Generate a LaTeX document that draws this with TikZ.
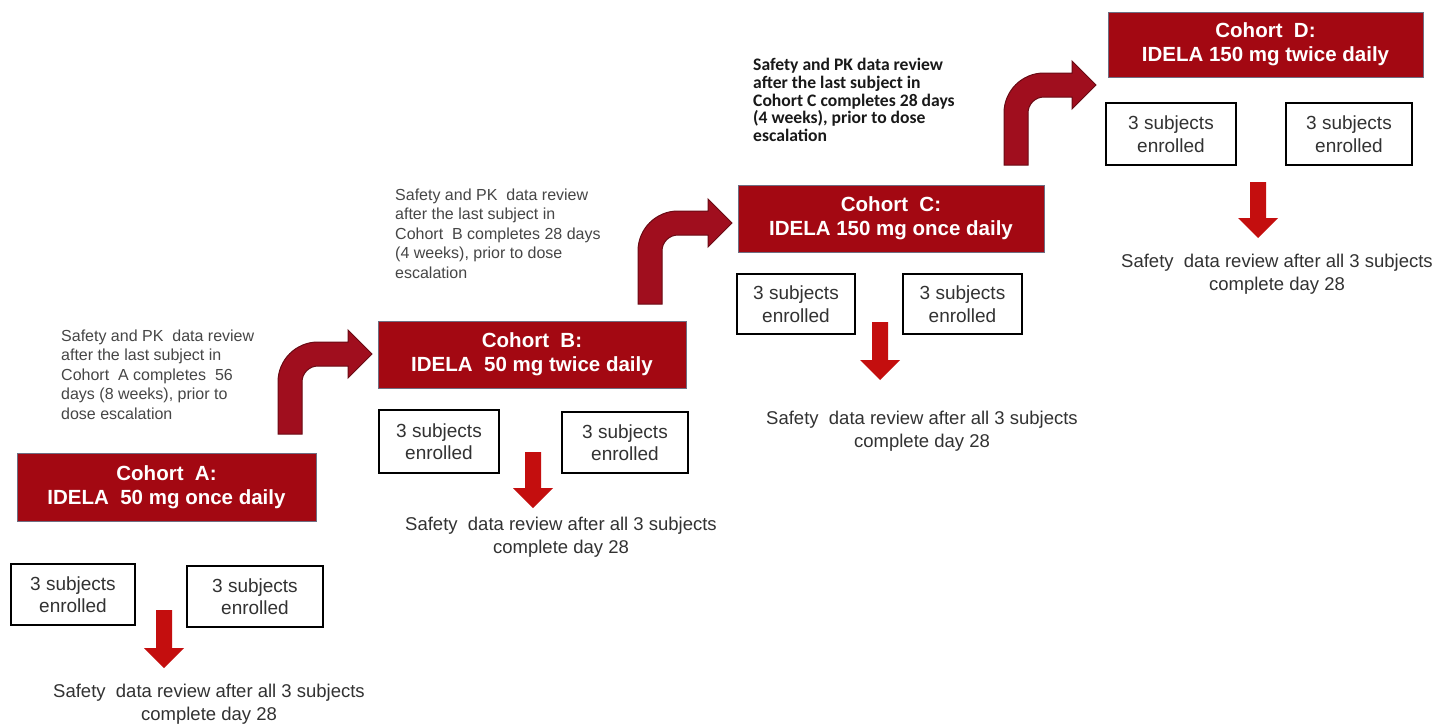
\documentclass[tikz,border=0pt]{standalone}
\usepackage{fontspec}
\setmainfont{Liberation Sans}
\newfontfamily\calibfont{Carlito}
\definecolor{boxred}{RGB}{163,8,18}
\definecolor{boxedge}{RGB}{110,110,130}
\definecolor{bentred}{RGB}{160,14,30}
\definecolor{bentedge}{RGB}{105,10,20}
\definecolor{dnred}{RGB}{196,14,14}
\definecolor{txtgray}{RGB}{70,70,70}
\definecolor{txtdark}{RGB}{50,50,50}
\definecolor{txtblack}{RGB}{25,25,25}
\newcommand\dnarrow[4]{\fill[dnred] (#1-8,#2) -- (#1+8,#2) -- (#1+8,#3) -- (#1+20,#3) -- (#1,#4) -- (#1-20,#3) -- (#1-8,#3) -- cycle;}
\begin{document}
\begin{tikzpicture}[x=1pt,y=-1pt,
  title/.style={fill=boxred, draw=boxedge, line width=0.8pt, text=white, font=\fontsize{20.5}{24}\selectfont\bfseries, align=center, inner sep=0pt},
  enrol/.style={draw=black, line width=1.8pt, fill=white, text=txtdark, font=\fontsize{19}{22.5}\selectfont, align=center, inner sep=0pt},
  review/.style={text=txtgray, font=\fontsize{16}{19.6}\selectfont, align=left, anchor=west, inner sep=0pt},
  reviewc/.style={text=txtblack, font=\calibfont\bfseries\fontsize{17.6}{17.6}\selectfont, align=left, anchor=west, inner sep=0pt},
  safety/.style={text=txtdark, font=\fontsize{18.5}{23}\selectfont, align=center, inner sep=0pt},
  bent/.style={fill=bentred, draw=bentedge, line width=1pt}]
\useasboundingbox (0,0) rectangle (1438,726);
\fill[white] (0,0) rectangle (1438,726);

% ---- Cohort A ----
\node[title, minimum width=299pt, minimum height=68pt] (tA) at (166.5,487) {Cohort\ \ A:\\IDELA\ \ 50 mg once daily};
\node[enrol, minimum width=124pt, minimum height=61pt] (eA1) at (73,594.5) {3 subjects\\enrolled};
\node[enrol, minimum width=136pt, minimum height=61pt] (eA2) at (255,596.5) {3 subjects\\enrolled};
\dnarrow{164}{610}{648}{668}
\node[safety] (sA) at (209,704) {Safety\ \ data review after all 3 subjects\\complete day 28};
\node[review] (rA) at (61,374.5) {Safety and PK\ \ data review\\after the last subject in\\Cohort\ \ A completes\ \ 56\\days (8 weeks), prior to\\dose escalation};
\path[bent] (278,434) -- (278,382) .. controls (278,359.9) and (295.9,342) .. (318,342) -- (348,342) -- (348,330) -- (372,354) -- (348,378) -- (348,366) -- (318,366) .. controls (309.2,366) and (302,373.2) .. (302,382) -- (302,434) -- cycle;

% ---- Cohort B ----
\node[title, minimum width=308pt, minimum height=67pt] (tB) at (532,354.5) {Cohort\ \ B:\\IDELA\ \ 50 mg twice daily};
\node[enrol, minimum width=120pt, minimum height=63pt] (eB1) at (439,441.5) {3 subjects\\enrolled};
\node[enrol, minimum width=126pt, minimum height=61pt] (eB2) at (625,442.5) {3 subjects\\enrolled};
\dnarrow{533}{452}{488}{508}
\node[safety] (sB) at (561,537.5) {Safety\ \ data review after all 3 subjects\\complete day 28};
\node[review] (rB) at (395,233.5) {Safety and PK\ \ data review\\after the last subject in\\Cohort\ \ B completes 28 days\\(4 weeks), prior to dose\\escalation};
\path[bent] (638,304) -- (638,251) .. controls (638,228.9) and (655.9,211) .. (678,211) -- (708,211) -- (708,199) -- (732,223) -- (708,247) -- (708,235) -- (678,235) .. controls (669.2,235) and (662,242.2) .. (662,251) -- (662,304) -- cycle;

% ---- Cohort C ----
\node[title, minimum width=306pt, minimum height=67pt] (tC) at (891,218.5) {Cohort\ \ C:\\IDELA 150 mg once daily};
\node[enrol, minimum width=118pt, minimum height=60pt] (eC1) at (796,304) {3 subjects\\enrolled};
\node[enrol, minimum width=119pt, minimum height=60pt] (eC2) at (962.5,304) {3 subjects\\enrolled};
\dnarrow{880}{322}{360}{380}
\node[safety] (sC) at (922,431.5) {Safety\ \ data review after all 3 subjects\\complete day 28};
\node[reviewc] (rC) at (753,100) {Safety and PK data review\\after the last subject in\\Cohort C completes 28 days\\(4 weeks), prior to dose\\escalation};
\path[bent] (1004,165) -- (1004,113) .. controls (1004,90.9) and (1021.9,73) .. (1044,73) -- (1072,73) -- (1072,61) -- (1096,85) -- (1072,109) -- (1072,97) -- (1044,97) .. controls (1035.2,97) and (1028,104.2) .. (1028,113) -- (1028,165) -- cycle;

% ---- Cohort D ----
\node[title, minimum width=315pt, minimum height=65pt] (tD) at (1265.5,44.5) {Cohort\ \ D:\\IDELA 150 mg twice daily};
\node[enrol, minimum width=130pt, minimum height=62pt] (eD1) at (1171,134) {3 subjects\\enrolled};
\node[enrol, minimum width=126pt, minimum height=62pt] (eD2) at (1349,134) {3 subjects\\enrolled};
\dnarrow{1258}{182}{218}{238}
\node[safety] (sD) at (1277,274.5) {Safety\ \ data review after all 3 subjects\\complete day 28};
\end{tikzpicture}
\end{document}
